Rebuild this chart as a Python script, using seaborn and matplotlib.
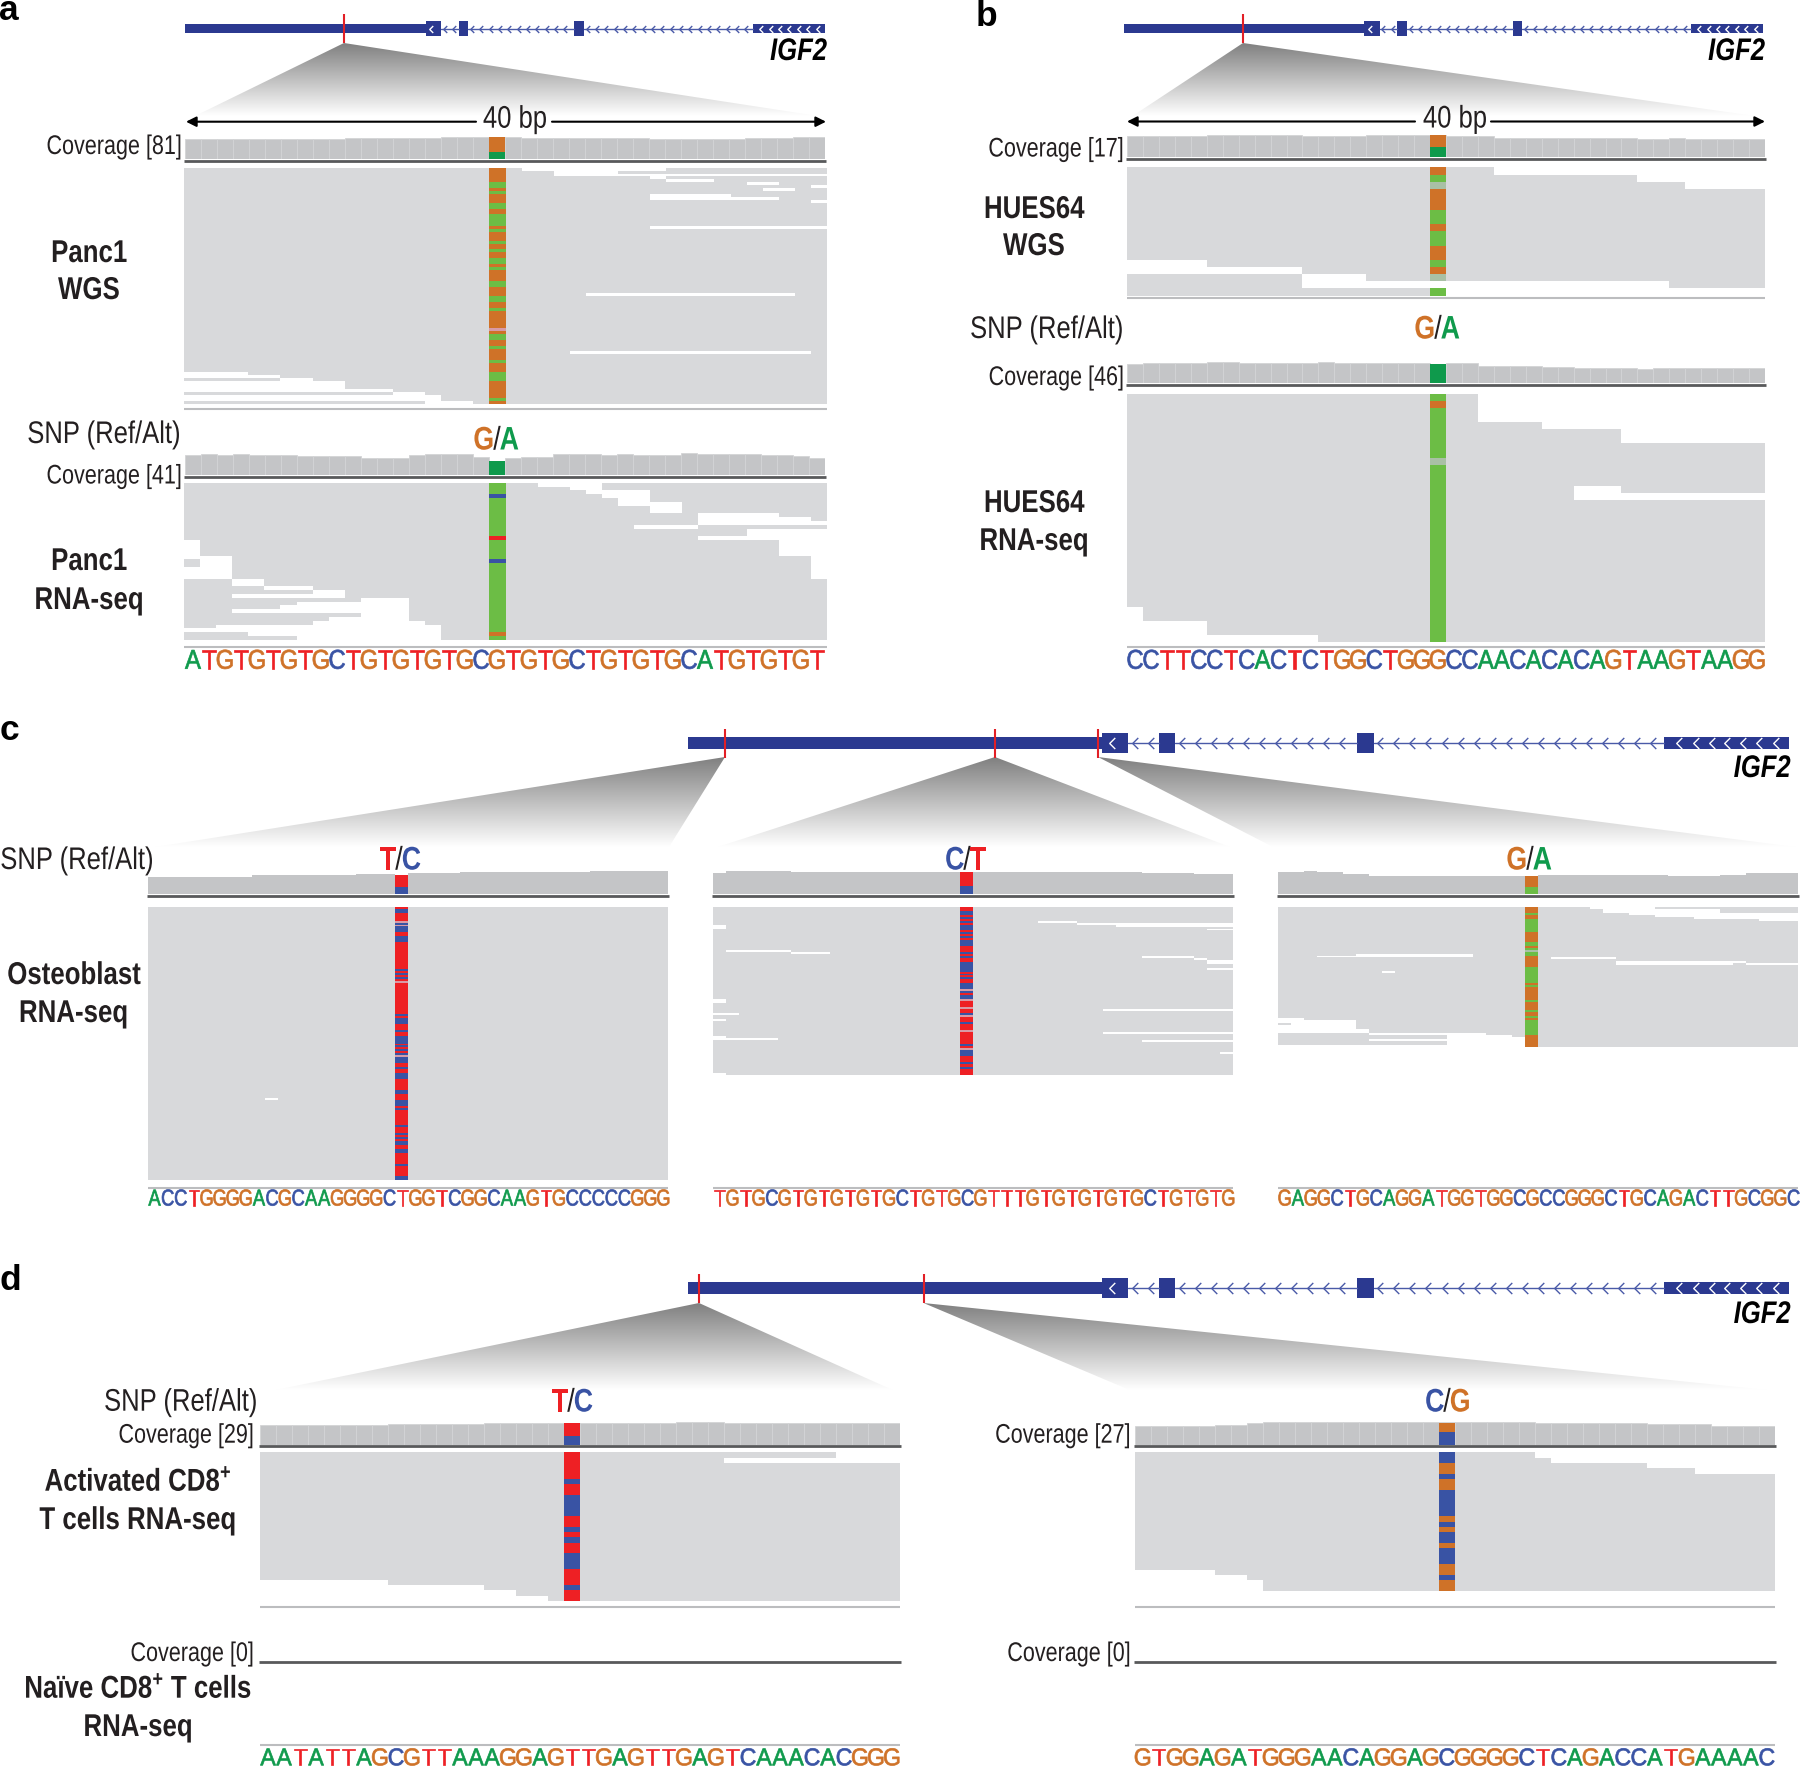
import numpy as np
import matplotlib
matplotlib.use('Agg')
import matplotlib.pyplot as plt
from matplotlib.colors import ListedColormap, LinearSegmentedColormap
from matplotlib.path import Path
from matplotlib.patches import PathPatch
from matplotlib.patheffects import AbstractPathEffect
from matplotlib.transforms import Affine2D
import seaborn as sns

# ---- sequences under each 40 bp window
SEQ_A = 'ATGTGTGTGCTGTGTGTGCGTGTGCTGTGTGCATGTGTGT'
SEQ_B = 'CCTTCCTCACTCTGGCTGGGCCAACACACAGTAAGTAAGG'
SEQ_C1 = 'ACCTGGGGACGCAAGGGGCTGGTCGGCAAGTGCCCCCGGG'
SEQ_C2 = 'TGTGCGTGTGTGTGCTGTGCGTTTGTGTGTGTGCTGTGTG'
SEQ_C3 = 'GAGGCTGCAGGATGGTGGCGCCGGGCTGCAGACTTGCGGC'
SEQ_D1 = 'AATATTAGCGTTAAAGGAGTTGAGTTGAGTCAAACACGGG'
SEQ_D2 = 'GTGGAGATGGGAACAGGAGCGGGGCTCAGACCATGAAAAC'

# ---- coverage per base
COV_A_WGS = [74, 74, 74, 74, 74, 74, 74, 74, 74, 74, 77, 77, 77, 77, 77, 77, 81, 81, 81, 81,
             81, 77, 77, 77, 77, 75, 75, 75, 75, 71, 71, 71, 74, 74, 74, 77, 77, 77, 81, 81]
COV_A_RNA = [37, 40, 37, 40, 38, 38, 38, 35, 35, 35, 35, 32, 32, 32, 37, 39, 39, 39, 34, 26,
             32, 34, 34, 39, 39, 39, 37, 39, 38, 38, 38, 41, 39, 39, 39, 39, 37, 37, 36, 31]
COV_B_WGS = [16, 16, 16, 16, 16, 17, 17, 17, 17, 17, 17, 16, 16, 16, 16, 17, 17, 17, 17, 17,
             16, 16, 16, 15, 15, 15, 15, 15, 15, 15, 15, 15, 14, 14, 15, 14, 14, 14, 14, 14]
COV_B_RNA = [41, 44, 44, 44, 44, 46, 46, 44, 44, 44, 44, 44, 46, 44, 44, 44, 44, 44, 44, 41,
             42, 42, 36, 36, 36, 36, 35, 35, 33, 33, 33, 33, 31, 33, 33, 33, 33, 33, 33, 33]
COV_C1 = [106, 106, 106, 106, 106, 106, 106, 106, 114, 114, 114, 114, 114, 114, 114, 114,
          122, 122, 122, 116, 130, 130, 130, 130, 134, 134, 134, 134, 134, 134, 134, 134,
          134, 134, 138, 138, 138, 138, 138, 138]
COV_C2 = [130, 138, 138, 138, 138, 138, 136, 136, 136, 136, 136, 136, 136, 136, 136, 136,
          136, 136, 136, 136, 136, 136, 136, 136, 136, 136, 136, 136, 134, 134, 134, 134,
          134, 130, 130, 130, 130, 122, 122, 122]
COV_C3 = [136, 136, 140, 132, 132, 122, 122, 112, 112, 112, 112, 112, 112, 112, 112, 112,
          112, 112, 112, 112, 116, 116, 116, 116, 116, 116, 116, 116, 116, 116, 112, 112,
          112, 112, 116, 116, 126, 126, 126, 126]
COV_D1 = [26, 26, 26, 26, 26, 26, 26, 26, 27, 27, 27, 27, 27, 27, 28, 28, 28, 28, 28, 28,
          28, 28, 28, 28, 28, 28, 29, 29, 29, 28, 28, 28, 28, 28, 28, 28, 28, 28, 28, 28]
COV_D2 = [23, 23, 23, 23, 23, 24, 24, 26, 27, 27, 27, 27, 27, 27, 27, 27, 27, 27, 27, 27,
          27, 27, 27, 27, 27, 26, 26, 26, 26, 26, 26, 26, 25, 25, 25, 25, 23, 23, 23, 23]

# ---- white gaps in each read pile: (row start, row end, col start, col end)
GAPS_A_WGS = [(0, 1, 21, 30), (1, 2, 23, 27), (2, 3, 23, 40), (3, 4, 29, 30), (4, 5, 30, 33),
              (5, 6, 35, 37), (6, 7, 39, 40), (7, 8, 36, 38), (9, 10, 29, 34), (10, 11, 29, 37),
              (11, 12, 39, 40), (20, 21, 29, 40), (43, 44, 25, 38), (63, 64, 24, 39),
              (70, 72, 0, 4), (71, 72, 4, 6), (72, 73, 6, 8), (73, 76, 0, 10), (76, 77, 0, 13),
              (77, 78, 13, 15), (78, 80, 0, 16), (80, 81, 15, 18)]
GAPS_A_RNA = [(0, 1, 22, 24), (0, 2, 24, 25), (0, 3, 25, 26), (2, 4, 26, 27), (2, 6, 27, 29),
              (5, 8, 29, 31), (8, 11, 32, 37), (9, 11, 37, 39), (10, 11, 39, 40), (11, 12, 28, 32),
              (12, 15, 35, 40), (14, 15, 32, 35), (15, 19, 37, 40), (19, 25, 39, 40),
              (15, 19, 0, 1), (19, 20, 0, 3), (20, 22, 1, 3), (22, 25, 0, 3), (25, 27, 3, 5),
              (27, 28, 5, 8), (28, 29, 8, 10), (29, 30, 3, 10), (31, 33, 7, 11), (32, 33, 6, 7),
              (33, 34, 3, 11), (30, 41, 11, 14), (35, 41, 9, 11), (36, 41, 8, 9), (37, 38, 2, 9),
              (38, 39, 0, 9), (39, 40, 4, 9), (40, 41, 7, 9), (36, 41, 14, 15), (37, 41, 15, 16)]
GAPS_B_WGS = [(0, 1, 23, 40), (1, 2, 32, 40), (2, 3, 35, 40), (13, 14, 0, 5), (14, 15, 0, 11),
              (15, 17, 11, 15), (16, 17, 15, 19), (16, 17, 20, 34), (17, 18, 20, 40)]
GAPS_B_RNA = [(0, 4, 22, 40), (4, 5, 26, 40), (5, 7, 31, 40), (13, 15, 28, 31), (14, 15, 31, 40),
              (30, 35, 0, 1), (32, 35, 1, 5), (34, 35, 5, 12)]
GAPS_C1 = [(98, 99, 9, 10)]
GAPS_C2 = [(9, 10, 0, 1), (10, 11, 0, 1), (22, 23, 1, 6), (23, 24, 6, 9), (47, 49, 0, 1),
           (54, 55, 0, 2), (57, 58, 0, 1), (66, 67, 0, 1), (67, 68, 0, 5), (85, 86, 0, 1),
           (7, 8, 25, 28), (8, 9, 28, 40), (9, 10, 31, 40), (11, 12, 38, 40), (25, 26, 33, 37),
           (26, 27, 37, 38), (27, 29, 38, 40), (31, 32, 38, 40), (52, 53, 30, 40),
           (64, 65, 30, 40), (68, 69, 33, 40), (74, 75, 39, 40)]
GAPS_C3 = [(0, 1, 24, 25), (0, 3, 25, 27), (0, 4, 27, 29), (1, 5, 29, 32), (1, 6, 32, 34),
           (3, 6, 34, 37), (3, 7, 37, 40), (25, 26, 3, 6), (24, 26, 6, 15), (33, 34, 8, 9),
           (26, 27, 21, 26), (28, 30, 26, 35), (28, 29, 35, 36), (29, 30, 36, 40),
           (57, 58, 0, 2), (58, 60, 0, 6), (60, 61, 1, 6), (61, 63, 0, 6), (63, 65, 0, 7),
           (65, 66, 7, 13), (68, 69, 7, 13), (65, 72, 13, 16), (66, 72, 16, 18), (67, 72, 18, 19),
           (71, 72, 0, 13)]
GAPS_D1 = [(0, 1, 36, 40), (1, 2, 29, 40), (24, 28, 0, 8), (25, 28, 8, 14), (26, 28, 14, 16),
           (27, 28, 16, 18)]
GAPS_D2 = [(0, 1, 25, 40), (1, 2, 26, 40), (2, 3, 32, 40), (3, 4, 35, 40), (22, 26, 0, 5),
           (23, 26, 5, 7), (24, 26, 7, 8)]

# ---- alleles down the SNP column, as runs (allele, rows)
# O=G orange, L=A green, T=red, C=blue, F=faded, P=pale, W=no read
SNP_A_WGS = [('O', 5), ('L', 2), ('O', 1), ('L', 1), ('O', 3), ('L', 2), ('O', 2), ('L', 4), ('O', 1),
             ('L', 1), ('O', 3), ('L', 1), ('O', 2), ('L', 1), ('O', 2), ('L', 2), ('O', 1), ('L', 1),
             ('O', 4), ('L', 2), ('O', 3), ('L', 2), ('O', 2), ('L', 1), ('O', 6), ('P', 1), ('O', 1),
             ('L', 2), ('O', 2), ('L', 1), ('O', 4), ('L', 1), ('O', 3), ('L', 3), ('O', 6), ('L', 1),
             ('O', 1)]
SNP_A_RNA = [('L', 3), ('C', 1), ('L', 10), ('T', 1), ('L', 5), ('C', 1), ('L', 18), ('O', 1), ('L', 1)]
SNP_B_WGS = [('O', 1), ('L', 1), ('F', 1), ('O', 3), ('L', 2), ('O', 1), ('L', 2), ('O', 2), ('L', 1),
             ('O', 1), ('F', 1), ('W', 1), ('L', 1)]
SNP_B_RNA = [('L', 1), ('O', 1), ('L', 7), ('F', 1), ('L', 25)]
SNP_C1 = [('T', 1), ('C', 2), ('T', 4), ('P', 1), ('C', 1), ('P', 1), ('C', 3), ('T', 2), ('C', 3),
          ('T', 14), ('C', 1), ('T', 1), ('C', 1), ('T', 1), ('C', 1), ('T', 1), ('P', 1), ('T', 16),
          ('C', 1), ('T', 1), ('C', 3), ('T', 3), ('C', 1), ('T', 2), ('C', 4), ('T', 1), ('C', 1),
          ('T', 1), ('C', 1), ('T', 1), ('C', 1), ('P', 1), ('C', 3), ('T', 2), ('C', 1), ('T', 2),
          ('C', 3), ('T', 6), ('C', 2), ('T', 3), ('C', 3), ('T', 1), ('C', 1), ('T', 8), ('C', 1),
          ('T', 3), ('C', 1), ('T', 1), ('C', 1), ('T', 1), ('C', 2), ('T', 2), ('C', 2), ('T', 6),
          ('C', 1), ('T', 5), ('C', 2)]
SNP_C2 = [('T', 2), ('C', 2), ('T', 1), ('C', 1), ('T', 1), ('C', 1), ('T', 1), ('C', 3), ('T', 1),
          ('C', 1), ('T', 1), ('C', 1), ('T', 1), ('C', 3), ('T', 3), ('C', 1), ('T', 1), ('C', 1),
          ('T', 2), ('C', 5), ('T', 1), ('C', 1), ('T', 1), ('C', 1), ('T', 2), ('C', 3), ('P', 1),
          ('C', 1), ('T', 1), ('C', 2), ('P', 1), ('T', 3), ('P', 1), ('T', 2), ('C', 1), ('P', 1),
          ('T', 3), ('C', 1), ('T', 3), ('P', 1), ('T', 6), ('C', 1), ('T', 1), ('P', 1), ('C', 3),
          ('T', 3), ('C', 1), ('T', 2), ('C', 1), ('T', 3)]
SNP_C3 = [('O', 3), ('L', 1), ('O', 2), ('L', 7), ('O', 5), ('L', 2), ('O', 1), ('L', 1), ('F', 1),
          ('L', 2), ('O', 6), ('L', 8), ('O', 1), ('L', 1), ('O', 7), ('L', 1), ('O', 4), ('L', 1),
          ('O', 2), ('L', 1), ('O', 1), ('L', 8), ('O', 6)]
SNP_D1 = [('T', 5), ('C', 1), ('T', 2), ('C', 4), ('T', 2), ('C', 1), ('T', 1), ('C', 1), ('T', 2),
          ('C', 3), ('T', 3), ('C', 1), ('T', 2)]
SNP_D2 = [('C', 2), ('O', 2), ('C', 1), ('O', 2), ('C', 5), ('O', 1), ('C', 1), ('O', 1), ('C', 2),
          ('O', 1), ('C', 3), ('O', 2), ('C', 1), ('O', 2)]

# ---- IGF2 model as fractions of the gene width
UTR_SPAN = (0.0, 0.376)
EXONS = [(0.376, 0.400), (0.428, 0.4425), (0.608, 0.623)]
LAST_BLOCK = (0.887, 1.0)
INTRONS = [(0.400, 0.428), (0.4425, 0.608), (0.623, 0.887)]
WHITE_CHEVRONS = [0.385, 0.900, 0.916, 0.930, 0.944, 0.959, 0.973, 0.989]

GREY_READ = '#d8d9db'
GREY_COV = '#c4c5c7'
GREY_BASE = '#58595b'
GREY_END = '#bcbdbf'
GENE_BLUE = '#2b3990'
TICK_RED = '#e21f26'
BASE_COL = {'A': '#0f9a4c', 'T': '#ee2024', 'G': '#cf7228', 'C': '#3953a4'}
CODES = {'W': 0, 'R': 1, 'O': 2, 'L': 3, 'T': 4, 'C': 5, 'F': 6, 'P': 7}
READ_CMAP = ListedColormap(['#ffffff', GREY_READ, '#cf7228', '#6cbd45', '#ee2024', '#3953a4', '#a9c0a5', '#d89aa6'])
FADE = LinearSegmentedColormap.from_list('fade', ['#808080', '#ffffff'])

W, H = 1800, 1768

sns.set_theme(style='white')
plt.rcParams['font.family'] = ['Liberation Sans', 'DejaVu Sans']
plt.rcParams['mathtext.default'] = 'regular'


class Squeeze(AbstractPathEffect):
    # the figure uses a narrow face, none is installed so squeeze the glyphs about the anchor
    def __init__(self, ha, sx=0.82, stroke=0.0):
        super().__init__()
        self.ha = ha
        self.sx = sx
        self.stroke = stroke

    def draw_path(self, renderer, gc, tpath, affine, rgbFace=None):
        ext = tpath.get_extents(affine)
        xa = {'left': ext.x0, 'right': ext.x1, 'center': (ext.x0 + ext.x1) / 2}[self.ha]
        squeezed = affine + Affine2D().translate(-xa, 0).scale(self.sx, 1).translate(xa, 0)
        gc0 = renderer.new_gc()
        gc0.copy_properties(gc)
        gc0.set_linewidth(self.stroke)
        if self.stroke:
            gc0.set_foreground(rgbFace)
        renderer.draw_path(gc0, tpath, squeezed, rgbFace)
        gc0.restore()


fig = plt.figure(figsize=(W / 100, H / 100), dpi=100)
canvas = fig.add_axes([0, 0, 1, 1], zorder=0)
canvas.set_xlim(0, W)
canvas.set_ylim(H, 0)
canvas.axis('off')


def px_axes(x0, y0, x1, y1, z=2):
    return fig.add_axes([x0 / W, 1 - y1 / H, (x1 - x0) / W, (y1 - y0) / H], zorder=z)


def gene(x0, x1, yc, half_utr, half_exon, ticks, tick_half, ms, igf_y):
    ax = px_axes(x0, yc - half_exon, x1, yc + half_exon, z=3)
    ax.set_xlim(0, 1)
    ax.set_ylim(-1, 1)
    th = half_utr / half_exon * 2
    ax.barh(0, UTR_SPAN[1] - UTR_SPAN[0], left=UTR_SPAN[0], height=th, color=GENE_BLUE, edgecolor='none')
    ax.barh(0, LAST_BLOCK[1] - LAST_BLOCK[0], left=LAST_BLOCK[0], height=th, color=GENE_BLUE, edgecolor='none')
    for a, b in EXONS:
        ax.barh(0, b - a, left=a, height=2, color=GENE_BLUE, edgecolor='none')
    chev = Path([(0.5, 1), (-0.5, 0), (0.5, -1)], [Path.MOVETO, Path.LINETO, Path.LINETO])
    for a, b in INTRONS:
        ax.plot([a, b], [0, 0], color='#4a5aa8', lw=1.0)
        xs = np.arange(a + 0.006, b - 0.002, 0.0146)
        ax.plot(xs, np.zeros(len(xs)), ls='', marker=chev, ms=ms, mfc='none', mec='#4a5aa8', mew=1.0)
    ax.plot(WHITE_CHEVRONS, np.zeros(len(WHITE_CHEVRONS)), ls='', marker=chev, ms=ms, mfc='none',
            mec='#ffffff', mew=1.0)
    ax.vlines(ticks, -tick_half / half_exon, tick_half / half_exon, color=TICK_RED, lw=1.5, clip_on=False)
    ax.axis('off')
    canvas.text(x1 + 2, igf_y + 4, 'IGF2', ha='right', va='center', fontsize=22.5, fontweight='bold',
                fontstyle='italic', color='#000000', path_effects=[Squeeze('right')])


def fade_triangle(apex, left, right):
    ys = np.linspace(0, 1, 200).reshape(-1, 1)
    top, bottom = apex[1], left[1]
    xs0, xs1 = min(left[0], apex[0]), max(right[0], apex[0])
    im = canvas.imshow(ys, cmap=FADE, vmin=0, vmax=1, extent=(xs0, xs1, bottom, top), aspect='auto', zorder=1)
    patch = PathPatch(Path([apex, left, right, apex]), fc='none', ec='none', transform=canvas.transData)
    canvas.add_patch(patch)
    im.set_clip_path(patch)
    canvas.set_xlim(0, W)
    canvas.set_ylim(H, 0)


def coverage(x0, x1, top, base, line_y, values, ymax, ref_alt=None, seps=True):
    ax = px_axes(x0, top, x1, base)
    pos = list(range(len(values)))
    if values:
        sns.barplot(x=pos, y=values, ax=ax, color=GREY_COV, saturation=1, width=1,
                    edgecolor='#d3d4d6' if seps else GREY_COV, linewidth=0.6 if seps else 0, errorbar=None)
    if ref_alt is not None:
        ref, alt, ref_c, alt_c = ref_alt
        ax.bar([19], [alt], width=1, color=alt_c, edgecolor='none')
        ax.bar([19], [ref], bottom=[alt], width=1, color=ref_c, edgecolor='none')
    ax.set_xlim(-0.5, 39.5)
    ax.set_ylim(0, ymax)
    ax.axis('off')
    canvas.plot([x0 - 1, x1 + 1], [line_y, line_y], color=GREY_BASE, lw=2.0, solid_capstyle='butt', zorder=3)


def reads(x0, x1, top, bottom, n_rows, gaps, snp, end_y=None):
    mat = np.full((n_rows, 40), CODES['R'])
    for r0, r1, c0, c1 in gaps:
        mat[r0:r1, c0:c1] = CODES['W']
    alleles = [CODES[k] for k, n in snp for _ in range(n)][:n_rows]
    mat[:len(alleles), 19] = alleles
    ax = px_axes(x0, top, x1, bottom)
    sns.heatmap(mat, ax=ax, cmap=READ_CMAP, vmin=-0.5, vmax=7.5, cbar=False, xticklabels=False, yticklabels=False)
    ax.axis('off')
    if end_y is not None:
        canvas.plot([x0, x1], [end_y, end_y], color=GREY_END, lw=1.5, solid_capstyle='butt', zorder=3)


def sequence(x0, x1, yc, seq, size, sx, line_y=None):
    ax = px_axes(x0, yc - 12, x1, yc + 12)
    ax.set_xlim(0, len(seq))
    ax.set_ylim(0, 1)
    for i, ch in enumerate(seq):
        ax.text(i + 0.5, 0.5, ch, color=BASE_COL[ch], ha='center', va='center', fontsize=size, clip_on=False,
                path_effects=[Squeeze('center', sx, 0.5)])
    ax.axis('off')
    if line_y is not None:
        canvas.plot([x0, x1], [line_y, line_y], color=GREY_END, lw=1.5, solid_capstyle='butt', zorder=3)


def label(x, y, s, ha='right', size=19.4, weight='normal', sx=0.82):
    canvas.text(x, y + 2, s, ha=ha, va='center', fontsize=size, fontweight=weight, color='#231f20',
                path_effects=[Squeeze(ha, sx)])


def cov_label(x, y, s):
    label(x, y, s, sx=0.80)


def bold(x, y, s, ha='center'):
    label(x, y, s, ha=ha, size=22.7, weight='bold')


def snp_text(x, y, ref, alt, size=23.5):
    y = y + 2
    canvas.text(x, y, '/', ha='center', va='center', fontsize=size, color='#231f20', path_effects=[Squeeze('center')])
    canvas.text(x - 2.5, y, ref, ha='right', va='center', fontsize=size, fontweight='bold', color=BASE_COL[ref],
                path_effects=[Squeeze('right')])
    canvas.text(x + 2.5, y, alt, ha='left', va='center', fontsize=size, fontweight='bold', color=BASE_COL[alt],
                path_effects=[Squeeze('left')])


def span_arrow(x0, x1, gap0, gap1, y, tx):
    style = dict(arrowstyle='-|>', color='#000000', lw=1.5, shrinkA=0, shrinkB=0, mutation_scale=15)
    canvas.annotate('', xy=(x0, y), xytext=(gap0, y), arrowprops=style, zorder=3)
    canvas.annotate('', xy=(x1, y), xytext=(gap1, y), arrowprops=style, zorder=3)
    label(tx, y - 4, '40 bp', ha='center', size=22.5)


def panel_letter(x, y, s):
    canvas.text(x, y, s, ha='center', va='center', fontsize=25.5, fontweight='bold', color='#000000')


DARK_G = BASE_COL['A']
LIGHT_G = '#6cbd45'
ORANGE = BASE_COL['G']
RED = BASE_COL['T']
BLUE = BASE_COL['C']

# ---- panel a
panel_letter(9, 11, 'a')
gene(185, 825, 28.5, 4.2, 7.4, [0.2484], 14.5, 5, 48)
fade_triangle((344, 43), (195, 116), (818, 116))
span_arrow(186, 826, 476, 552, 121.7, 515)
cov_label(182, 145, 'Coverage [81]')
coverage(185, 825, 136.7, 159.3, 160.5, COV_A_WGS, 81, (54, 27, ORANGE, DARK_G))
reads(184, 827, 167.7, 404, 81, GAPS_A_WGS, SNP_A_WGS, 409)
bold(89, 252, 'Panc1')
bold(89, 289, 'WGS')
label(27, 433, 'SNP (Ref/Alt)', ha='left', size=22.5)
snp_text(497, 439, 'G', 'A')
cov_label(182, 474.5, 'Coverage [41]')
coverage(185, 825, 453, 475, 476.5, COV_A_RNA, 41, (0, 26, ORANGE, DARK_G))
reads(184, 827, 482.7, 640, 41, GAPS_A_RNA, SNP_A_RNA, 647)
bold(89, 560, 'Panc1')
bold(89, 599, 'RNA-seq')
sequence(185, 825, 661.7, SEQ_A, 19.5, 0.88)

# ---- panel b
panel_letter(986, 17, 'b')
gene(1124, 1763, 28.5, 4.2, 7.4, [0.1862], 14.5, 5, 48)
fade_triangle((1243, 43), (1132.5, 116), (1755, 116))
span_arrow(1127, 1765, 1415, 1491, 121.5, 1455)
cov_label(1124, 147.5, 'Coverage [17]')
coverage(1127, 1765, 135, 157, 158.5, COV_B_WGS, 17, (9, 8, ORANGE, DARK_G))
reads(1127, 1765, 167.4, 295.5, 18, GAPS_B_WGS, SNP_B_WGS, 297.5)
bold(1034, 208, 'HUES64')
bold(1034, 245, 'WGS')
label(1124, 328, 'SNP (Ref/Alt)', size=22.5)
snp_text(1438, 328, 'G', 'A')
cov_label(1124, 376, 'Coverage [46]')
coverage(1127, 1765, 361.6, 383, 384.5, COV_B_RNA, 46, (0, 41, ORANGE, DARK_G))
reads(1127, 1765, 393.7, 642, 35, GAPS_B_RNA, SNP_B_RNA, 646.5)
bold(1034, 502, 'HUES64')
bold(1034, 540, 'RNA-seq')
sequence(1127, 1765, 661.7, SEQ_B, 19.5, 0.88)

# ---- panel c
panel_letter(9, 731, 'c')
gene(688, 1788.6, 743.3, 6, 10, [0.0336, 0.2787, 0.3725], 14.3, 8, 765)
fade_triangle((725, 757), (155, 847), (669, 847))
fade_triangle((995, 757), (717.6, 847), (1230, 847))
fade_triangle((1098, 757), (1273, 847), (1795.5, 847))
label(0, 859, 'SNP (Ref/Alt)', ha='left', size=22.5)
snp_text(399, 859, 'T', 'C')
snp_text(967, 859, 'C', 'T')
snp_text(1530, 859, 'G', 'A')
coverage(148, 668, 871, 894.3, 895.5, COV_C1, 140, (70, 46, RED, BLUE), seps=False)
coverage(713, 1233, 871, 894.3, 895.5, COV_C2, 140, (86, 50, RED, BLUE), seps=False)
coverage(1278.3, 1798.4, 871, 894.3, 895.5, COV_C3, 140, (66, 46, ORANGE, LIGHT_G), seps=False)
reads(148, 668, 907, 1180, 140, GAPS_C1, SNP_C1, 1187.5)
reads(713, 1233, 907, 1075.3, 86, GAPS_C2, SNP_C2, 1187.5)
reads(1278.3, 1798.4, 907, 1046.7, 72, GAPS_C3, SNP_C3, 1187.5)
bold(7, 974, 'Osteoblast', ha='left')
bold(73.5, 1012, 'RNA-seq')
sequence(148, 670, 1199, SEQ_C1, 16.5, 0.80)
sequence(713, 1235, 1199, SEQ_C2, 16.5, 0.80)
sequence(1278.3, 1800, 1199, SEQ_C3, 16.5, 0.80)

# ---- panel d
panel_letter(10, 1281, 'd')
gene(688, 1788.6, 1288.3, 6, 10, [0.01, 0.214], 14.3, 8, 1311)
fade_triangle((699, 1303), (275.5, 1390), (892.7, 1390))
fade_triangle((923.5, 1303), (1129.6, 1390), (1766.8, 1390))
label(258, 1400.7, 'SNP (Ref/Alt)', size=22.5)
snp_text(571, 1401, 'T', 'C')
snp_text(1447, 1401, 'C', 'G')
cov_label(254, 1433.7, 'Coverage [29]')
cov_label(1130.8, 1433.7, 'Coverage [27]')
coverage(260, 900, 1422.3, 1445, 1446, COV_D1, 29, (16, 12, RED, BLUE))
coverage(1134.8, 1774.8, 1422.3, 1445, 1446, COV_D2, 27, (11, 15, ORANGE, BLUE))
reads(260, 900, 1452.3, 1601, 28, GAPS_D1, SNP_D1, 1606.7)
reads(1134.8, 1774.8, 1452.3, 1591, 26, GAPS_D2, SNP_D2, 1606.7)
bold(138, 1481, 'Activated CD8$^{+}$')
bold(138, 1519, 'T cells RNA-seq')
cov_label(254, 1652, 'Coverage [0]')
cov_label(1130.8, 1652, 'Coverage [0]')
coverage(260, 900, 1640, 1661, 1662.3, [], 1)
coverage(1134.8, 1774.8, 1640, 1661, 1662.3, [], 1)
bold(138, 1688, 'Naïve CD8$^{+}$ T cells')
bold(138, 1726, 'RNA-seq')
sequence(260, 900, 1759.3, SEQ_D1, 17.5, 0.95, line_y=1745)
sequence(1134.8, 1774.8, 1759.3, SEQ_D2, 17.5, 0.95, line_y=1745)

fig.savefig('out.png', dpi=100, facecolor='white')
plt.close(fig)
